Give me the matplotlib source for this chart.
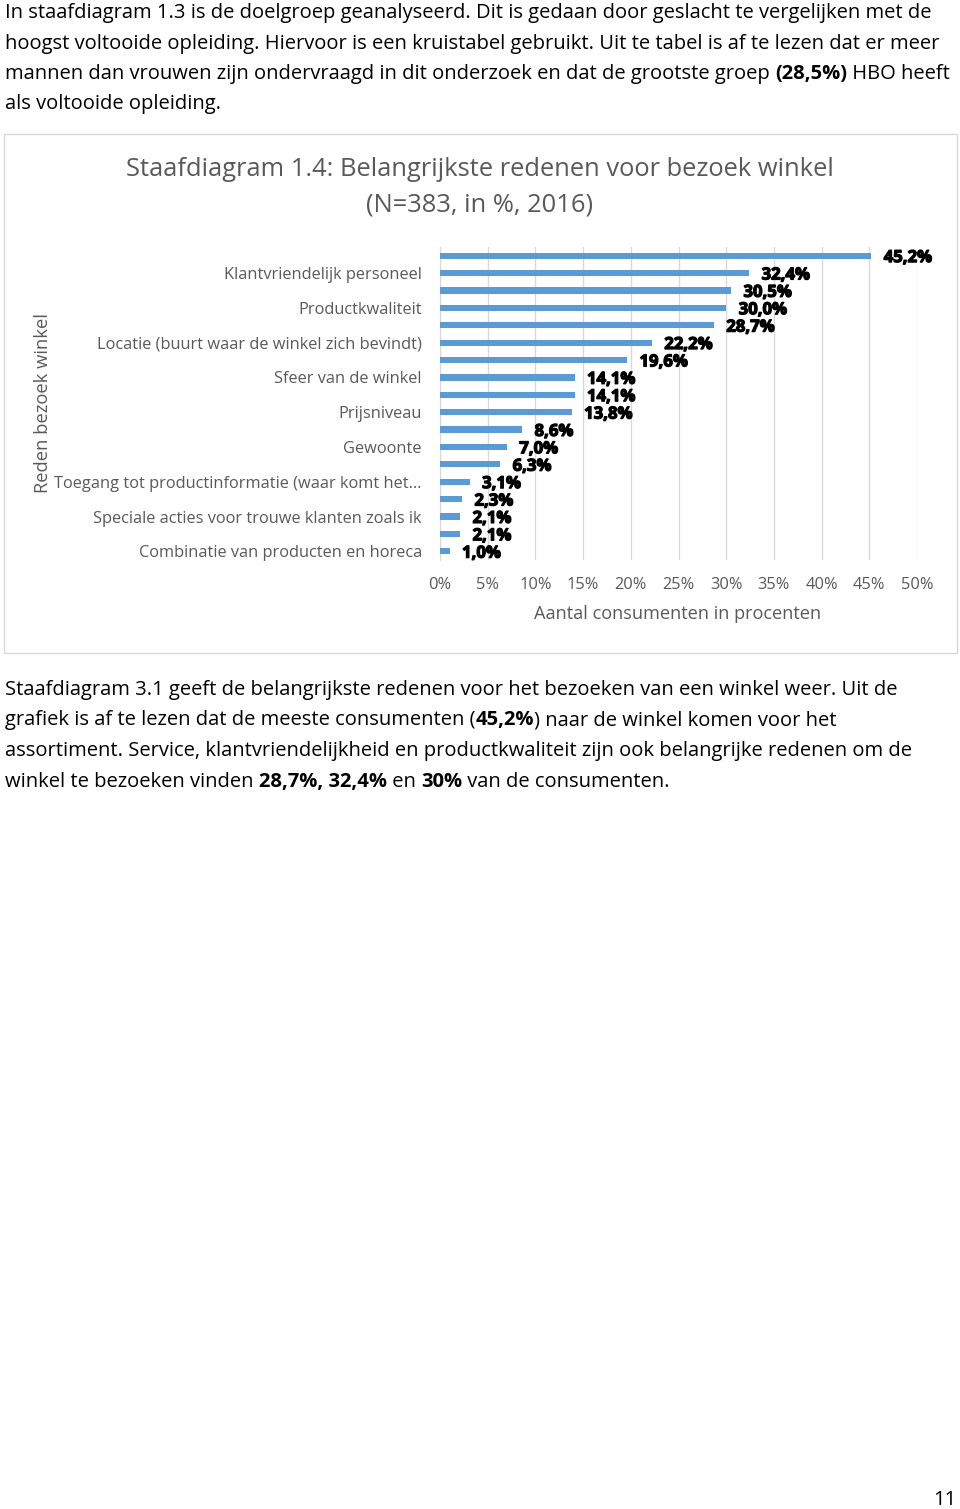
import matplotlib
matplotlib.use("Agg")
import matplotlib.pyplot as plt
import matplotlib.patheffects as pe
from matplotlib.patches import Rectangle
from matplotlib import font_manager

W, H = 960, 1509

# data (top to bottom as shown in the chart)
redenen = ["Assortiment", "Klantvriendelijk personeel", "", "Productkwaliteit",
           "Service", "Locatie (buurt waar de winkel zich bevindt)", "",
           "Sfeer van de winkel", "", "Prijsniveau", "", "Gewoonte", "",
           "Toegang tot productinformatie (waar komt het\u2026", "",
           "Speciale acties voor trouwe klanten zoals ik", "",
           "Combinatie van producten en horeca"]
percentages = [45.2, 32.4, 30.5, 30.0, 28.7, 22.2, 19.6, 14.1, 14.1, 13.8,
               8.6, 7.0, 6.3, 3.1, 2.3, 2.1, 2.1, 1.0]
x_ticks = [0, 5, 10, 15, 20, 25, 30, 35, 40, 45, 50]

para1 = [
    [("In staafdiagram 1.3 is de doelgroep geanalyseerd. Dit is gedaan door geslacht te vergelijken met de", False)],
    [("hoogst voltooide opleiding. Hiervoor is een kruistabel gebruikt. Uit te tabel is af te lezen dat er meer", False)],
    [("mannen dan vrouwen zijn ondervraagd in dit onderzoek en dat de grootste groep ", False),
     ("(28,5%)", True), (" HBO heeft", False)],
    [("als voltooide opleiding.", False)],
]
para2 = [
    [("Staafdiagram 3.1 geeft de belangrijkste redenen voor het bezoeken van een winkel weer. Uit de", False)],
    [("grafiek is af te lezen dat de meeste consumenten (", False), ("45,2%", True),
     (") naar de winkel komen voor het", False)],
    [("assortiment. Service, klantvriendelijkheid en productkwaliteit zijn ook belangrijke redenen om de", False)],
    [("winkel te bezoeken vinden ", False), ("28,7%, 32,4%", True), (" en ", False),
     ("30%", True), (" van de consumenten.", False)],
]


def pick_font(names):
    for n in names:
        try:
            font_manager.findfont(n, fallback_to_default=False)
            return n
        except Exception:
            pass
    return "DejaVu Sans"


BODY = pick_font(["Liberation Sans Narrow", "Open Sans"])
CHART = "Open Sans"
GRAY = "#595959"

fig = plt.figure(figsize=(W / 100, H / 100), dpi=100)
fig.patch.set_facecolor("white")
renderer = fig.canvas.get_renderer()


def px(x, y):
    return x / W, 1 - y / H


def seg_width(txt, size, bold):
    w = "bold" if bold else "normal"
    t1 = fig.text(0, 0, "|" + txt + "|", fontsize=size, fontweight=w, family=BODY)
    t2 = fig.text(0, 0, "||", fontsize=size, fontweight=w, family=BODY)
    d = t1.get_window_extent(renderer).width - t2.get_window_extent(renderer).width
    t1.remove()
    t2.remove()
    return d


# scale body font so the first full line fits the page width
body_size = 10 * 927 / seg_width(para1[0][0][0], 10, False)


def draw_lines(lines, x0, y0, step):
    for i, line in enumerate(lines):
        x = x0
        for txt, bold in line:
            fig.text(*px(x, y0 + i * step), txt, fontsize=body_size,
                     fontweight="bold" if bold else "normal", family=BODY,
                     color="black", ha="left", va="baseline")
            x += seg_width(txt, body_size, bold)


draw_lines(para1, 5, 18, 30.5)
draw_lines(para2, 5, 695, 30.5)

# chart frame
fig.add_artist(Rectangle(px(4, 653), 953 / W, 519 / H, transform=fig.transFigure,
                         fill=False, edgecolor="#d9d9d9", linewidth=1))

fig.text(*px(480, 170), "Staafdiagram 1.4: Belangrijkste redenen voor bezoek winkel",
         fontsize=18.4, family=CHART, color=GRAY, ha="center", va="center")
fig.text(*px(480, 205), "(N=383, in %, 2016)",
         fontsize=18.4, family=CHART, color=GRAY, ha="center", va="center")

left, right, top, bottom = 440, 917, 247, 560
ax = fig.add_axes([left / W, 1 - bottom / H, (right - left) / W, (bottom - top) / H])
y = list(range(len(percentages)))
ax.barh(y, percentages, height=0.36, color="#5b9bd5", zorder=3)
ax.set_ylim(len(percentages) - 0.5, -0.5)
ax.set_xlim(0, 50)
ax.set_xticks(x_ticks)
ax.set_xticklabels([f"{v}%" for v in x_ticks], family=CHART, fontsize=11.8, color=GRAY)
ax.set_yticks(y[1::2])
ax.set_yticklabels(redenen[1::2], family=CHART, fontsize=11.8, color=GRAY)
ax.tick_params(length=0, pad=13)
ax.tick_params(axis="x", pad=12.5)
ax.grid(axis="x", color="#d9d9d9", linewidth=1, zorder=0)
for s in ["top", "right", "bottom"]:
    ax.spines[s].set_visible(False)
ax.spines["left"].set_color("#d9d9d9")

for yi, v in zip(y, percentages):
    ax.annotate(f"{v:.1f}%".replace(".", ","), (v, yi), xytext=(9, -1),
                textcoords="offset points", ha="left", va="center",
                family=CHART, fontweight="bold", fontsize=12, color="black",
                path_effects=[pe.withStroke(linewidth=0.9, foreground="black")])

fig.text(*px(678, 614), "Aantal consumenten in procenten", fontsize=13.1,
         family=CHART, color=GRAY, ha="center", va="center")
fig.text(*px(43, 403), "Reden bezoek winkel", fontsize=13.2, family=CHART,
         color=GRAY, ha="center", va="center", rotation=90)

fig.text(*px(945, 1500), "11", fontsize=body_size, family=BODY, color="black",
         ha="center", va="center")

fig.savefig("out.png", dpi=100, facecolor="white")
